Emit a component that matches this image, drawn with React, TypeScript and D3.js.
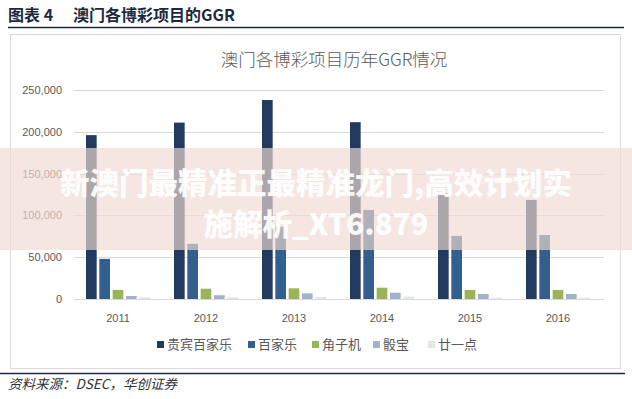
import * as d3 from 'd3';

const years = ['2011', '2012', '2013', '2014', '2015', '2016'];
const seriesNames = ['贵宾百家乐', '百家乐', '角子机', '骰宝', '廿一点'];
const seriesColors = ['#213a5e', '#335f8f', '#9bb35a', '#a3b3cf', '#e2e5ea'];

const vipBaccarat = [196000, 211000, 238000, 211500, 126500, 118500];
const massBaccarat = [48000, 66000, 86500, 106500, 75500, 76500];
const slots = [10800, 12300, 12800, 13500, 10800, 10800];
const sicBo = [3600, 4500, 6800, 7500, 6000, 6000];
const blackjack = [2000, 2000, 2500, 3000, 1500, 1500];
const seriesValues = [vipBaccarat, massBaccarat, slots, sicBo, blackjack];

const yTicks = [0, 50000, 100000, 150000, 200000, 250000];

const W = 632;
const H = 399;

const App = () => {
  const x0 = d3.scaleBand<string>().domain(years).range([74, 602]).padding(0);
  const x1 = d3
    .scaleBand<string>()
    .domain(seriesNames)
    .range([12, 76])
    .paddingInner(0.2);
  const y = d3.scaleLinear().domain([0, 250000]).range([299, 90]);
  const fmt = d3.format(',');

  const legendX = [157, 248, 312, 373, 428];
  const cjk = "'Noto Sans CJK SC', sans-serif";

  return (
    <svg
      width={W}
      height={H}
      style={{ position: 'absolute', left: 0, top: 0, background: '#fff' }}
      fontFamily="'Liberation Sans', Arial, sans-serif"
    >
      {/* report header */}
      <text x={8} y={21} fontSize={16} fontWeight="bold" fill="#1b2b3d" fontFamily={cjk}>
        图表 4
      </text>
      <text x={73} y={21} fontSize={16} fontWeight="bold" fill="#1b2b3d" fontFamily={cjk}>
        澳门各博彩项目的GGR
      </text>
      <line x1={8} x2={624} y1={27.5} y2={27.5} stroke="#1d2a38" strokeWidth={1.5} />

      {/* chart frame */}
      <rect x={10.5} y={34.5} width={610} height={334} fill="#fff" stroke="#d9d9d9" />

      <text x={334} y={66} textAnchor="middle" fontSize={17.5} fill="#595959" fontFamily={cjk} fontWeight={300}>
        澳门各博彩项目历年GGR情况
      </text>

      {/* grid + y labels */}
      {yTicks.map((t) => (
        <g key={t}>
          <line x1={74} x2={604} y1={Math.round(y(t)) + 0.5} y2={Math.round(y(t)) + 0.5} stroke="#d9d9d9" />
          <text x={62} y={y(t) + 4} textAnchor="end" fontSize={11} fill="#595959">
            {fmt(t)}
          </text>
        </g>
      ))}

      {/* bars */}
      {seriesNames.map((s, si) =>
        years.map((yr, i) => (
          <rect
            key={s + yr}
            x={(x0(yr) ?? 0) + (x1(s) ?? 0)}
            y={y(seriesValues[si][i])}
            width={x1.bandwidth()}
            height={y(0) - y(seriesValues[si][i])}
            fill={seriesColors[si]}
          />
        )),
      )}

      {/* x labels */}
      {years.map((yr) => (
        <text key={yr} x={(x0(yr) ?? 0) + x0.bandwidth() / 2} y={322} textAnchor="middle" fontSize={11} fill="#595959">
          {yr}
        </text>
      ))}

      {/* legend */}
      {seriesNames.map((s, i) => (
        <g key={s} transform={`translate(${legendX[i]},341)`}>
          <rect x={0} y={0} width={7} height={7} fill={seriesColors[i]} />
          <text x={10} y={8} fontSize={13} fill="#595959" fontFamily={cjk}>
            {s}
          </text>
        </g>
      ))}

      {/* footer */}
      <line x1={0} x2={625} y1={373.5} y2={373.5} stroke="#1d2a38" strokeWidth={1.5} />
      <text x={8} y={389} fontSize={13.5} fontStyle="italic" fill="#333" fontFamily={cjk}>
        资料来源：DSEC，华创证券
      </text>

      {/* overlay band */}
      <rect x={0} y={148} width={W} height={102} fill="rgb(240,218,210)" opacity={0.67} />
      <g fontFamily={cjk} fontWeight={900} fontSize={29.5} fill="#fff" opacity={0.92} textAnchor="middle">
        <text x={316} y={194}>新澳门最精准正最精准龙门,高效计划实</text>
        <text x={316} y={235}>施解析_XT6.879</text>
      </g>
    </svg>
  );
};

export default App;
